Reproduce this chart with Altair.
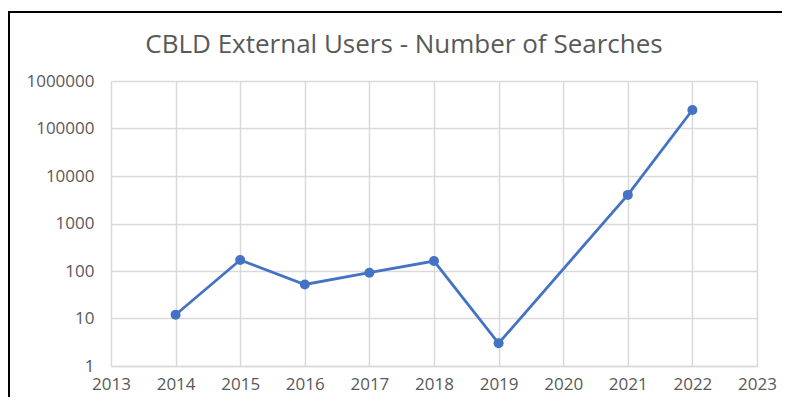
import altair as alt
import pandas as pd

years = [2014, 2015, 2016, 2017, 2018, 2019, 2021, 2022]
searches = [12, 170, 52, 92, 162, 3, 4000, 245000]
y_ticks = [1, 10, 100, 1000, 10000, 100000, 1000000]
x_ticks = list(range(2013, 2024))
title_text = "CBLD External Users - Number of Searches"

df = pd.DataFrame({"year": years, "searches": searches})

LINE = "#4472C4"
TXT = "#595959"
GRID = "#D9D9D9"

base = alt.Chart(df).encode(
    x=alt.X("year:Q",
            scale=alt.Scale(domain=[2013, 2023], nice=False, zero=False),
            axis=alt.Axis(values=x_ticks, format="d", title=None,
                          domainColor=GRID, domainWidth=1.5,
                          labelPadding=10, labelFlush=False)),
    y=alt.Y("searches:Q",
            scale=alt.Scale(type="log", domain=[1, 1000000], nice=False),
            axis=alt.Axis(values=y_ticks, format="d", title=None,
                          domain=False, labelPadding=17)),
)

line = base.mark_line(color=LINE, strokeWidth=2.8)
points = base.mark_circle(color=LINE, size=100, opacity=1)

frame_top = alt.Chart(df).mark_rule(color="#000000", strokeWidth=2).encode(
    x=alt.value(-103), x2=alt.value(700), y=alt.value(-69))
frame_left = alt.Chart(df).mark_rule(color="#000000", strokeWidth=2).encode(
    x=alt.value(-102), y=alt.value(-69), y2=alt.value(330))

title = alt.Chart(pd.DataFrame({"t": [title_text]})).mark_text(
    font="Open Sans", fontSize=26, color=TXT, align="center",
    baseline="middle").encode(
    text="t:N", x=alt.value(293), y=alt.value(-36))

chart = alt.layer(frame_top, frame_left, title, line, points).properties(
    width=646, height=285,
    autosize=alt.AutoSizeParams(type="none"),
    padding={"left": 103, "top": 73, "right": 25, "bottom": 31},
).configure_view(stroke=None).configure_axis(
    labelFont="Open Sans", labelFontSize=17, labelColor=TXT,
    grid=True, gridColor=GRID, gridWidth=1.5, ticks=False,
)

chart.save("out.html", embed_options={"renderer": "svg", "actions": False})
